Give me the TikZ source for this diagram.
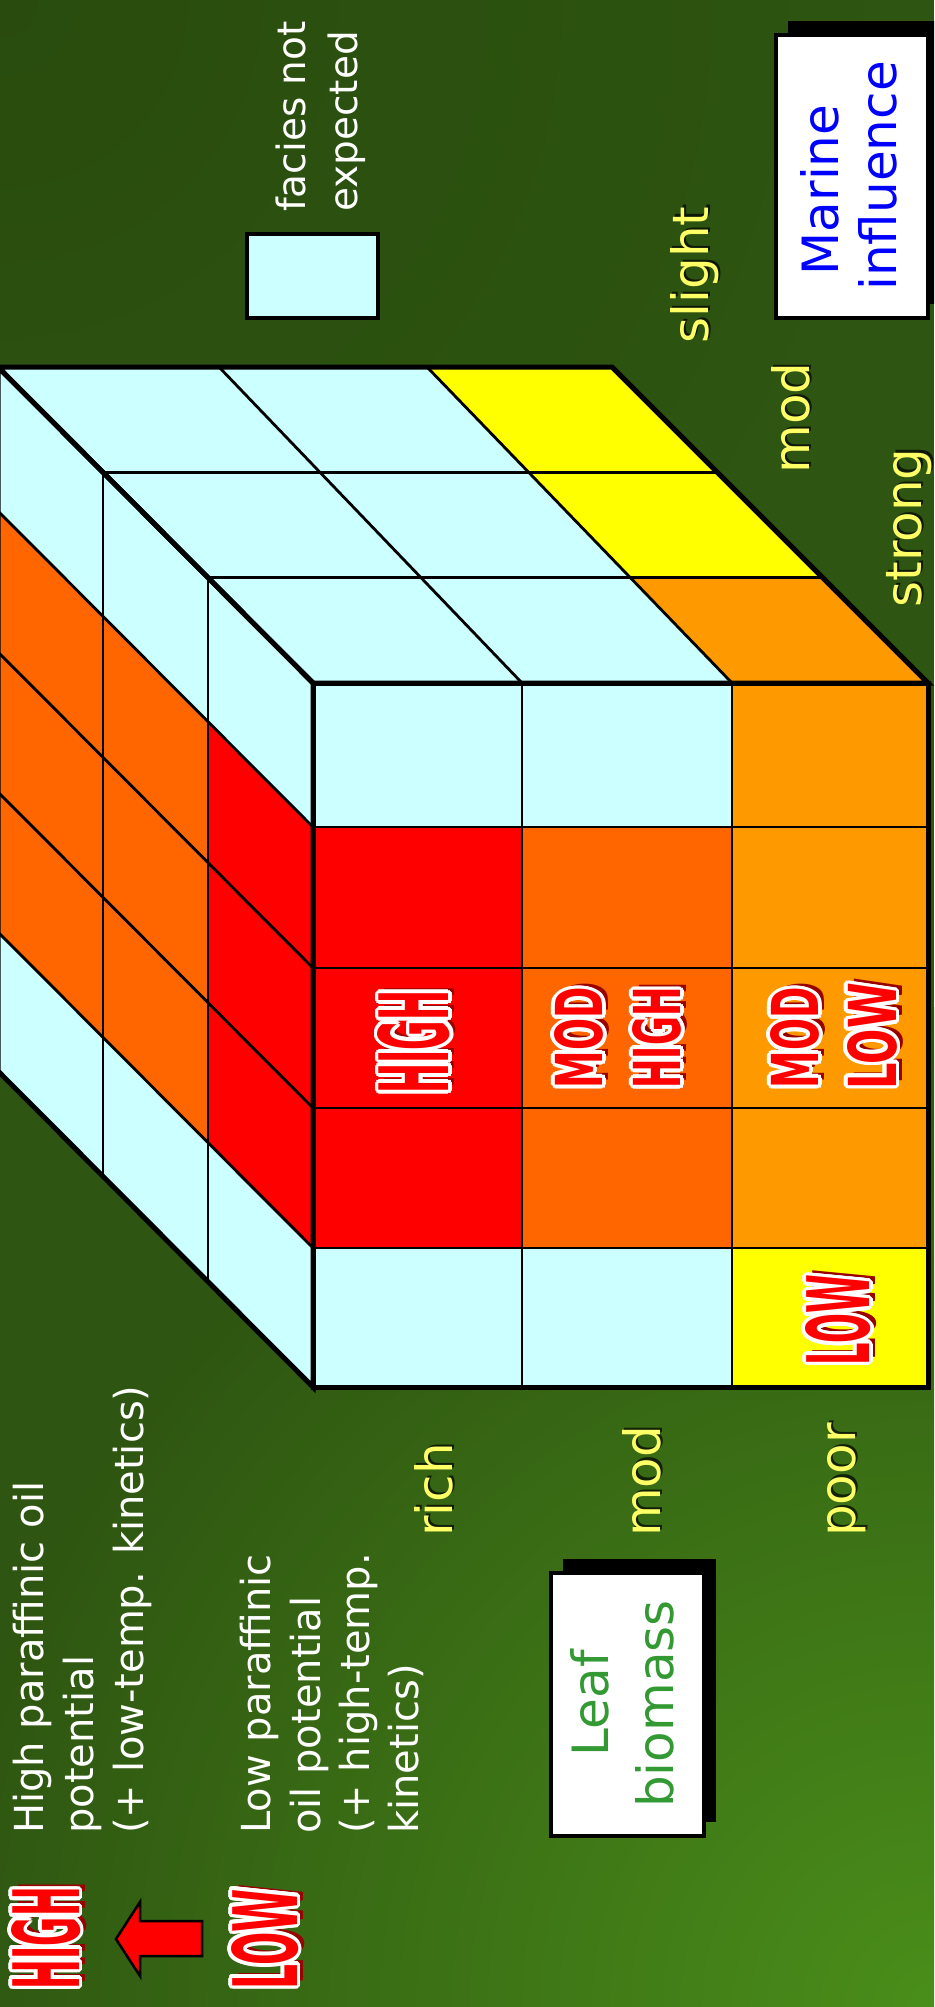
\documentclass[tikz,border=0pt]{standalone}
\usepackage{fontspec}
\setmainfont{DejaVu Sans}
\newfontfamily\impf{DejaVu Sans}
\usepackage{graphicx}
\usetikzlibrary{calc}
\definecolor{bg}{HTML}{2E5511}
\definecolor{bgdark}{HTML}{28490D}
\definecolor{bglight}{HTML}{4A8E1A}
\definecolor{cy}{HTML}{CCFFFF}
\definecolor{rd}{HTML}{FF0000}
\definecolor{dor}{HTML}{FF6600}
\definecolor{orr}{HTML}{FF9900}
\definecolor{ye}{HTML}{FFFF00}
\definecolor{lbl}{HTML}{FFFF66}
\definecolor{shadowred}{HTML}{990000}
\definecolor{mblue}{HTML}{0000FF}
\definecolor{lgreen}{HTML}{339933}
\newcommand\bigfs{\fontsize{50}{60}\selectfont}
\newcommand\smlfs{\fontsize{40}{50}\selectfont}
\newcommand\imptext[5]{%
  \node[imp, text=shadowred] at ($#2+(6,-5)$) {\resizebox{#3}{#4}{\impf\bfseries #5}};
  \foreach \ang in {0,22.5,...,337.5}{%
    \node[imp, text=white] at ($#2+(\ang:3.6)$) {\resizebox{#3}{#4}{\impf\bfseries #5}};}
  \node[imp, text=rd] (#1) at #2 {\resizebox{#3}{#4}{\impf\bfseries #5}};
}
% yellow label with a dark drop shadow: #1 name, #2 anchor, #3 position, #4 text
\newcommand\ylabel[4]{%
  \node[rlab, text=black, opacity=0.7, anchor=#2] at ($#3+(2.2,-2.2)$) {#4};
  \node[rlab, text=lbl, anchor=#2] (#1) at #3 {#4};
}
\tikzset{
  imp/.style={rotate=90, inner sep=0pt, outer sep=0pt},
  cubegrid/.style={draw=black, line width=2.8pt},
  cubeedge/.style={draw=black, line width=5pt, line join=miter},
  rlab/.style={rotate=90, inner sep=0pt, font=\bigfs},
  slab/.style={rotate=90, inner sep=0pt, font=\smlfs, text=white, anchor=base west},
  wbox/.style={fill=white, draw=black, line width=4pt},
  sbox/.style={fill=black},
}
\begin{document}
\begin{tikzpicture}[x=1pt, y=-1pt]
\useasboundingbox (0,0) rectangle (934,2007);
\clip (0,0) rectangle (934,2007);
% background
\fill[bg] (0,0) rectangle (934,2007);
\shade[inner color=bglight, outer color=bg] (934,2007) circle (1000);
\shade[inner color=bgdark, outer color=bg, opacity=0.7] (0,0) circle (900);

% cube coordinates
\foreach \ci/\fx/\bx in {0/313/-2,1/522/219,2/732/427,3/928/612}{
  \foreach \li in {0,1,2,3}{
    \coordinate (T\ci\li) at ({\fx+(\bx-\fx)*\li/3},{683-105.33*\li});
  }
  \foreach \ri/\fy in {0/683,1/827,2/968,3/1108,4/1248,5/1387}{
    \coordinate (F\ci\ri) at (\fx,\fy);
  }
}
\foreach \li in {0,1,2,3}{
  \foreach \ri/\fy in {0/683,1/827,2/968,3/1108,4/1248,5/1387}{
    \coordinate (L\li\ri) at ({313-105*\li},{\fy-105.33*\li});
  }
}
% front face
\foreach \ci/\ri/\col in {0/0/cy,1/0/cy,2/0/orr,0/1/rd,1/1/dor,2/1/orr,0/2/rd,1/2/dor,2/2/orr,0/3/rd,1/3/dor,2/3/orr,0/4/cy,1/4/cy,2/4/ye}{
  \pgfmathtruncatemacro\cn{\ci+1}\pgfmathtruncatemacro\rn{\ri+1}
  \fill[\col] (F\ci\ri) -- (F\cn\ri) -- (F\cn\rn) -- (F\ci\rn) -- cycle;
}
% top face
\foreach \ci/\li/\col in {0/0/cy,0/1/cy,0/2/cy,1/0/cy,1/1/cy,1/2/cy,2/0/orr,2/1/ye,2/2/ye}{
  \pgfmathtruncatemacro\cn{\ci+1}\pgfmathtruncatemacro\ln{\li+1}
  \fill[\col] (T\ci\li) -- (T\cn\li) -- (T\cn\ln) -- (T\ci\ln) -- cycle;
}
% left face
\foreach \li/\ri/\col in {0/0/cy,0/1/rd,0/2/rd,0/3/rd,0/4/cy,1/0/cy,1/1/dor,1/2/dor,1/3/dor,1/4/cy,2/0/cy,2/1/dor,2/2/dor,2/3/dor,2/4/cy}{
  \pgfmathtruncatemacro\rn{\ri+1}\pgfmathtruncatemacro\ln{\li+1}
  \fill[\col] (L\li\ri) -- (L\ln\ri) -- (L\ln\rn) -- (L\li\rn) -- cycle;
}
% grid lines
\foreach \ci in {1,2}{ \draw[cubegrid] (F\ci0) -- (F\ci5); \draw[cubegrid] (T\ci0) -- (T\ci3); }
\foreach \ri in {1,...,4}{ \draw[cubegrid] (F0\ri) -- (F3\ri); \draw[cubegrid] (L0\ri) -- (L3\ri); }
\foreach \li in {1,2}{ \draw[cubegrid] (T0\li) -- (T3\li); \draw[cubegrid] (L\li0) -- (L\li5); }
% outer edges
\draw[cubeedge] (F00) -- (F30) -- (F35) -- (F05) -- cycle;
\draw[cubeedge] (T00) -- (T30) -- (T33) -- (T03) -- cycle;
\draw[cubeedge] (L00) -- (L30) -- (L35) -- (L05) -- cycle;

% cell labels
\imptext{chigh}{(414,1042)}{103pt}{71pt}{HIGH}
\imptext{cmod1}{(579,1038)}{101pt}{48pt}{MOD}
\imptext{chigh2}{(657,1038)}{101pt}{48pt}{HIGH}
\imptext{cmod2}{(795,1038)}{101pt}{48pt}{MOD}
\imptext{clow1}{(872,1036)}{106pt}{49pt}{LOW}
\imptext{clow2}{(838,1320)}{90pt}{64pt}{LOW}

% axis labels
\ylabel{slight}{base}{(708,275)}{slight}
\ylabel{mmod}{base}{(809,418)}{mod}
\ylabel{strong}{base}{(921,528)}{strong}
\ylabel{rich}{base west}{(452,1537)}{rich}
\ylabel{lmod}{base west}{(660,1537)}{mod}
\ylabel{poor}{base west}{(855,1537)}{poor}

% legend square
\draw[fill=cy, draw=black, line width=3.5pt] (247,234) rectangle (378,318);
\node[slab, font=\fontsize{39}{49}\selectfont] (fac1) at (305,212) {facies not};
\node[slab, font=\fontsize{39}{49}\selectfont] (fac2) at (357,212) {expected};

% marine influence box
\fill[sbox] (788,21) rectangle (940,304);
\draw[wbox] (776,35) rectangle (928,318);
\node[rlab, text=mblue, anchor=base] (mar1) at (838,190) {Marine};
\node[rlab, text=mblue, anchor=base] (mar2) at (896,176) {influence};

% leaf biomass box
\fill[sbox] (563,1559) rectangle (716,1822);
\draw[wbox] (551,1573) rectangle (704,1836);
\node[rlab, text=lgreen, anchor=base] (leaf1) at (608,1703) {Leaf};
\node[rlab, text=lgreen, anchor=base] (leaf2) at (673,1704) {biomass};

% legend texts
\node[slab] (hp1) at (43,1834) {High paraffinic oil};
\node[slab] (hp2) at (93,1834) {potential};
\node[slab] (hp3) at (143,1834) {(+ low-temp. kinetics)};
\node[slab] (lp1) at (270,1834) {Low paraffinic};
\node[slab] (lp2) at (320,1834) {oil potential};
\node[slab] (lp3) at (369,1834) {(+ high-temp.};
\node[slab] (lp4) at (418,1834) {kinetics)};

% HIGH / LOW legend
\imptext{lhigh}{(46,1938)}{102pt}{68pt}{HIGH}
\imptext{llow}{(265,1939)}{100pt}{66pt}{LOW}
\draw[fill=rd, draw=black, line width=2.5pt, line join=miter]
  (116,1939) -- (140,1902) -- (140,1921) -- (202,1921) -- (202,1956) -- (140,1956) -- (140,1976) -- cycle;
\end{tikzpicture}
\end{document}
